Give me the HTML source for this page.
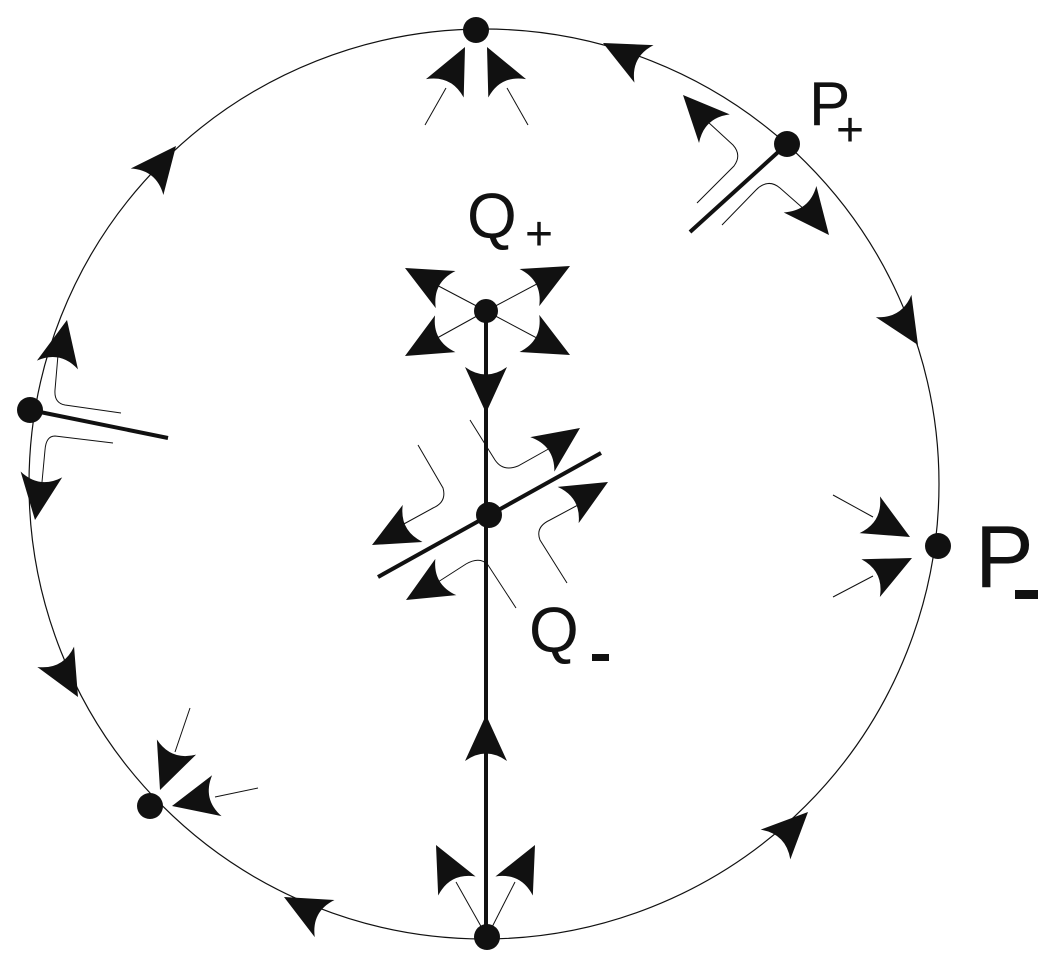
<!DOCTYPE html>
<html><head><meta charset="utf-8"><style>html,body{margin:0;padding:0;background:#fff}svg{display:block}</style></head>
<body>
<svg width="1057" height="962" viewBox="0 0 1057 962" xmlns="http://www.w3.org/2000/svg">
<defs>
<path id="a" d="M0,0 L-46,-21 Q-31,0 -46,21 Z" fill="#111"/>
</defs>
<g fill="none" stroke="#111">
<circle cx="484" cy="484" r="455" stroke-width="1.2"/>
<g stroke-width="4">
<line x1="486" y1="311" x2="486" y2="937"/>
<line x1="378" y1="577" x2="601" y2="453"/>
<line x1="787" y1="144" x2="690" y2="232"/>
<line x1="30" y1="410" x2="168" y2="438"/>
</g>
<g stroke-width="1">
<line x1="486" y1="311" x2="410" y2="271"/>
<line x1="486" y1="311" x2="565" y2="269"/>
<line x1="486" y1="311" x2="410" y2="353"/>
<line x1="486" y1="311" x2="565" y2="353"/>
<line x1="425" y1="125" x2="446" y2="88"/>
<line x1="528" y1="125" x2="507" y2="88"/>
<line x1="487" y1="937" x2="456" y2="882"/>
<line x1="487" y1="937" x2="515" y2="882"/>
<line x1="833" y1="495" x2="873" y2="517"/>
<line x1="833" y1="597" x2="873" y2="576"/>
<line x1="190" y1="708" x2="175" y2="752"/>
<line x1="258" y1="788" x2="215" y2="797"/>
<path d="M121,413 L65,405 Q54,403 55,390 L58,355"/>
<path d="M113,443 L55,436 Q46,436 45,450 L42,482"/>
<path d="M470,420 L495,460 Q503,472 518,466 L552,447"/>
<path d="M567,583 L540,540 Q535,527 550,520 L578,505"/>
<path d="M418,445 L443,488 Q447,502 433,508 L402,525"/>
<path d="M516,608 L488,565 Q480,556 466,564 L438,582"/>
<path d="M697,203 L734,166 Q742,155 733,145 L708,122"/>
<path d="M722,225 L756,190 Q768,178 780,188 L805,210"/>
</g>
</g>
<g fill="#111">
<circle cx="476" cy="30" r="13"/>
<circle cx="787" cy="144" r="13"/>
<circle cx="938" cy="546" r="13"/>
<circle cx="486" cy="311" r="12"/>
<circle cx="489" cy="515" r="13"/>
<circle cx="30" cy="410" r="13"/>
<circle cx="150" cy="806" r="13"/>
<circle cx="487" cy="937" r="13"/>
</g>
<use href="#a" transform="translate(603,43) rotate(207)"/>
<use href="#a" transform="translate(176,146) rotate(-51)"/>
<use href="#a" transform="translate(918,345) rotate(58)"/>
<use href="#a" transform="translate(78,697) rotate(61)"/>
<use href="#a" transform="translate(284,897) rotate(208)"/>
<use href="#a" transform="translate(808,812) rotate(-45)"/>
<use href="#a" transform="translate(465,47) rotate(-64)"/>
<use href="#a" transform="translate(487,47) rotate(-116)"/>
<use href="#a" transform="translate(67,320) rotate(-78)"/>
<use href="#a" transform="translate(35,520) rotate(98)"/>
<use href="#a" transform="translate(160,790) rotate(111)"/>
<use href="#a" transform="translate(172,806) rotate(167)"/>
<use href="#a" transform="translate(910,537) rotate(29)"/>
<use href="#a" transform="translate(912,558) rotate(-26)"/>
<use href="#a" transform="translate(436,845) rotate(-117)"/>
<use href="#a" transform="translate(535,845) rotate(-63)"/>
<use href="#a" transform="translate(486,413) rotate(90)"/>
<use href="#a" transform="translate(486,715) rotate(-90)"/>
<use href="#a" transform="translate(405,268) rotate(208)"/>
<use href="#a" transform="translate(570,266) rotate(-28)"/>
<use href="#a" transform="translate(405,356) rotate(151)"/>
<use href="#a" transform="translate(570,355) rotate(28)"/>
<use href="#a" transform="translate(580,428) rotate(-35)"/>
<use href="#a" transform="translate(608,482) rotate(-30)"/>
<use href="#a" transform="translate(372,545) rotate(152)"/>
<use href="#a" transform="translate(406,600) rotate(150)"/>
<use href="#a" transform="translate(683,95) rotate(227)"/>
<use href="#a" transform="translate(829,235) rotate(51)"/>
<g font-family="Liberation Sans, sans-serif" fill="#111">
<text x="809" y="125" font-size="62">P</text>
<text x="836" y="146" font-size="48">+</text>
<text x="467" y="238" font-size="64">Q</text>
<text x="525" y="250" font-size="48">+</text>
<text x="529" y="652" font-size="64">Q</text>
<rect x="592" y="654" width="17" height="7"/>
<text x="975" y="587" font-size="88">P</text>
<rect x="1015" y="590" width="23" height="9"/>
</g>
</svg>
</body></html>
